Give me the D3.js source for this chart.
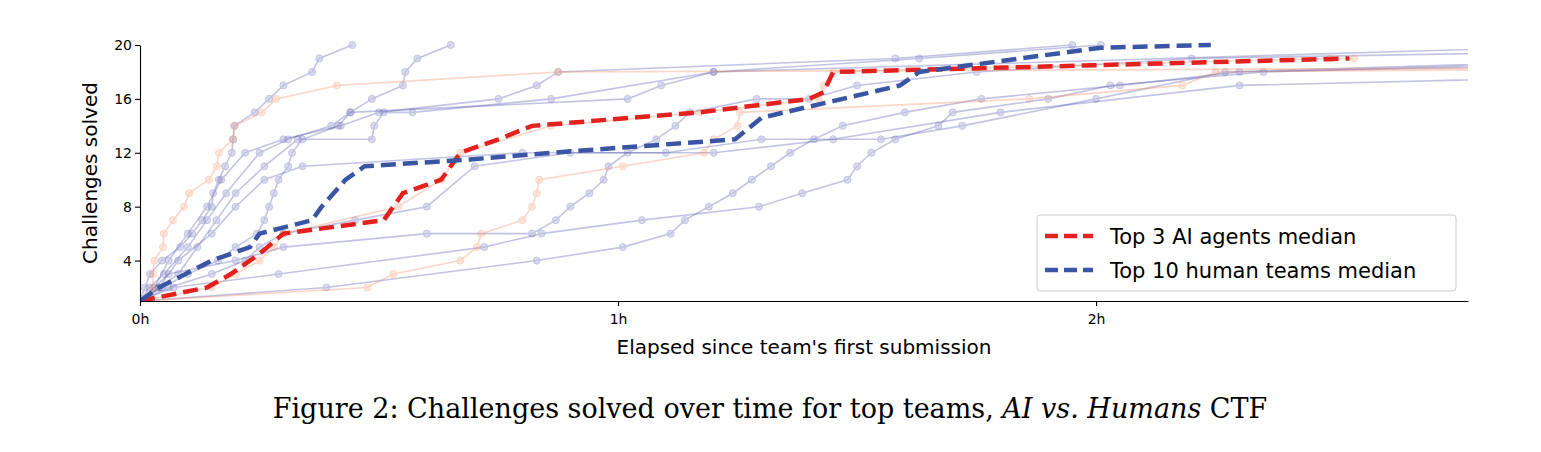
<!DOCTYPE html>
<html><head><meta charset="utf-8">
<script src="https://cdn.jsdelivr.net/npm/d3@7"></script>
<style>body{margin:0;background:#fff}</style>
</head><body>
<svg id="chart" width="1541" height="452"></svg>
<script>
// time in hours, challenges solved
const aiTeams = [
  [[0,1],[0.027,2],[0.027,3],[0.03,4],[0.048,5],[0.05,6],[0.069,7],[0.092,8],[0.103,9],[0.144,10],[0.161,11],[0.165,12],[0.194,13],[0.199,14],[0.255,15],[0.285,16],[0.412,17],[0.874,18],[3,18.3]],
  [[0,1],[0.475,2],[0.53,3],[0.67,4],[0.705,5],[0.714,6],[0.8,7],[0.82,8],[0.83,9],[0.835,10],[1.01,11],[1.18,12],[1.2,13],[1.25,14],[1.255,15],[1.86,16],[2.18,17],[2.25,18],[3,18.2]],
  [[0,1],[0.15,2],[0.2,3],[0.25,4],[0.28,5],[0.3,6],[0.54,8],[0.63,10],[0.67,12],[0.86,14],[1.17,15],[1.42,16],[1.43,17],[1.45,18],[2.49,19],[2.54,19]]
];
const humanTeams = [
  [[0,1],[0.01,2],[0.021,3],[0.046,4],[0.084,5],[0.109,6],[0.13,7],[0.15,8],[0.153,9],[0.165,10],[0.178,11],[0.192,12],[0.195,13],[0.197,14],[0.24,15],[0.27,16],[0.3,17],[0.36,18],[0.375,19],[0.444,20]],
  [[0,1],[0.046,2],[0.1,3],[0.163,4],[0.2,5],[0.245,6],[0.26,7],[0.27,8],[0.28,9],[0.29,10],[0.31,11],[0.318,12],[0.34,13],[0.415,14],[0.44,15],[0.485,16],[0.55,17],[0.555,18],[0.58,19],[0.65,20]],
  [[0,1],[0.04,2],[0.08,3],[0.12,5],[0.16,7],[0.2,9],[0.26,11],[0.33,13],[0.485,13],[0.49,14],[0.51,15],[0.57,15],[0.86,16],[1.2,18],[3,19.9]],
  [[0,1],[0.03,2],[0.06,4],[0.1,6],[0.14,8],[0.17,10],[0.22,12],[0.3,13],[0.42,14],[0.5,15],[0.75,16],[0.83,17],[0.875,18],[1.58,19],[1.95,20]],
  [[0,1],[0.02,2],[0.05,3],[0.1,5],[0.14,7],[0.18,9],[0.25,12],[0.31,13],[0.4,14],[0.44,15],[1.02,16],[1.09,17],[1.2,18],[1.63,19],[2.01,20]],
  [[0,1],[0.04,2],[0.08,4],[0.15,6],[0.2,8],[0.26,10],[0.34,11],[0.8,12],[1.1,12],[1.3,13],[1.55,13],[1.72,14],[2.0,16],[2.27,18],[3,18.8]],
  [[0,1],[0.39,2],[0.83,4],[1.01,5],[1.11,6],[1.14,7],[1.19,8],[1.24,9],[1.28,10],[1.32,11],[1.36,12],[1.41,13],[1.47,14],[1.6,15],[1.76,16],[2.05,17],[2.3,18],[3,18.5]],
  [[0,1],[0.07,2],[0.29,3],[0.72,5],[0.84,6],[1.05,7],[1.295,8],[1.385,9],[1.48,10],[1.5,11],[1.53,12],[1.58,13],[1.67,14],[1.7,15],[1.9,16],[2.03,17],[2.35,18],[3,18.7]],
  [[0,1],[0.06,3],[0.2,4],[0.3,5],[0.6,6],[0.82,6],[0.87,7],[0.9,8],[0.94,9],[0.97,10],[0.98,11],[1.02,12],[1.08,13],[1.12,14],[1.15,15],[1.29,16],[1.4,16],[1.5,17],[1.75,18],[2.2,19],[3,19.5]],
  [[0,1],[0.06,2],[0.15,3],[0.22,4],[0.25,5],[0.3,6],[0.45,7],[0.6,8],[0.7,11],[0.9,12],[1.2,12],[1.45,13],[1.8,15],[2.3,17],[3,17.6]]
];
const aiMedian = [[0,1],[0.14,2],[0.19,3],[0.25,4.5],[0.3,6],[0.51,7],[0.55,9],[0.63,10],[0.67,12],[0.75,13],[0.82,14],[1.17,15],[1.4,16],[1.43,16.5],[1.45,18],[2.0,18.5],[2.53,19]];
const humanMedian = [[0,1],[0.04,2],[0.15,4],[0.23,5],[0.25,6],[0.36,7],[0.38,8],[0.43,10],[0.47,11],[0.69,11.5],[0.86,12],[1.245,13],[1.3,14.6],[1.59,17],[1.63,18],[2.01,19.8],[2.24,20]];
const xTicks = [0, 1, 2];
const xTickLabels = ["0h", "1h", "2h"];
const yTicks = [4, 8, 12, 16, 20];
const legendLabels = ["Top 3 AI agents median", "Top 10 human teams median"];

const svg = d3.select("#chart");
const mLeft = 140, mRight = 1468, mTop = 45, mBottom = 301;
const x = d3.scaleLinear().domain([0, 2.778]).range([mLeft, mRight]);
const y = d3.scaleLinear().domain([1, 20]).range([mBottom, mTop]);
const line = d3.line().x(d => x(d[0])).y(d => y(d[1]));

svg.append("defs").append("clipPath").attr("id", "clip")
    .append("rect").attr("x", mLeft).attr("y", mTop - 6).attr("width", mRight - mLeft).attr("height", mBottom - mTop + 6);

const plot = svg.append("g").attr("clip-path", "url(#clip)");

function drawTeam(data, color) {
    const g = plot.append("g").attr("opacity", 0.35);
    g.append("path").datum(data).attr("d", line).attr("fill", "none").attr("stroke", color).attr("stroke-width", 1.6);
    g.selectAll("circle").data(data.filter(d => d[0] > 0 && d[0] < 2.9)).join("circle")
        .attr("cx", d => x(d[0])).attr("cy", d => y(d[1])).attr("r", 3.5)
        .attr("fill", color).attr("fill-opacity", 0.6).attr("stroke", color);
}
humanTeams.forEach(t => drawTeam(t, "#5658b0"));
aiTeams.forEach(t => drawTeam(t, "#f58a5c"));

plot.append("path").datum(aiMedian).attr("d", line).attr("fill", "none")
    .attr("stroke", "#e3211f").attr("stroke-width", 4.5).attr("stroke-dasharray", "15,7");
plot.append("path").datum(humanMedian).attr("d", line).attr("fill", "none")
    .attr("stroke", "#3a55a4").attr("stroke-width", 4.5).attr("stroke-dasharray", "15,7");

const xAxis = d3.axisBottom(x).tickValues(xTicks).tickFormat((d, i) => xTickLabels[i]).tickSize(5).tickSizeOuter(0);
const yAxis = d3.axisLeft(y).tickValues(yTicks).tickSize(5).tickSizeOuter(0);

const gx = svg.append("g").attr("transform", `translate(0,${mBottom})`).call(xAxis);
const gy = svg.append("g").attr("transform", `translate(${mLeft},0)`).call(yAxis);
[gx, gy].forEach(g => {
    g.selectAll("text").attr("font-family", "DejaVu Sans").attr("font-size", 14).attr("fill", "#000");
    g.selectAll("line,path").attr("stroke", "#000").attr("stroke-width", 1.1);
});
gx.selectAll("text").attr("dy", "1.1em");

svg.append("text").attr("x", 804).attr("y", 354).attr("text-anchor", "middle")
    .attr("font-family", "DejaVu Sans").attr("font-size", 20).text("Elapsed since team's first submission");
svg.append("text").attr("transform", `translate(97,${(mTop + mBottom) / 2}) rotate(-90)`).attr("text-anchor", "middle")
    .attr("font-family", "DejaVu Sans").attr("font-size", 20).text("Challenges solved");

// legend
const lg = svg.append("g").attr("transform", "translate(1037,215)");
lg.append("rect").attr("width", 419).attr("height", 76).attr("rx", 3)
    .attr("fill", "#fff").attr("fill-opacity", 0.85).attr("stroke", "#ccc");
legendLabels.forEach((lab, i) => {
    const yy = 21 + i * 34;
    lg.append("line").attr("x1", 8).attr("x2", 56).attr("y1", yy).attr("y2", yy)
        .attr("stroke", i ? "#3a55a4" : "#e3211f").attr("stroke-width", 4.5).attr("stroke-dasharray", "13,6");
    lg.append("text").attr("x", 73).attr("y", yy + 8).attr("font-family", "DejaVu Sans").attr("font-size", 21).text(lab);
});

// caption
const cap = svg.append("text").attr("x", 770).attr("y", 418).attr("text-anchor", "middle")
    .attr("font-family", "DejaVu Serif").attr("font-size", 27);
cap.append("tspan").text("Figure 2: Challenges solved over time for top teams, ");
cap.append("tspan").attr("font-style", "italic").text("AI vs. Humans");
cap.append("tspan").text(" CTF");
</script>
</body></html>
